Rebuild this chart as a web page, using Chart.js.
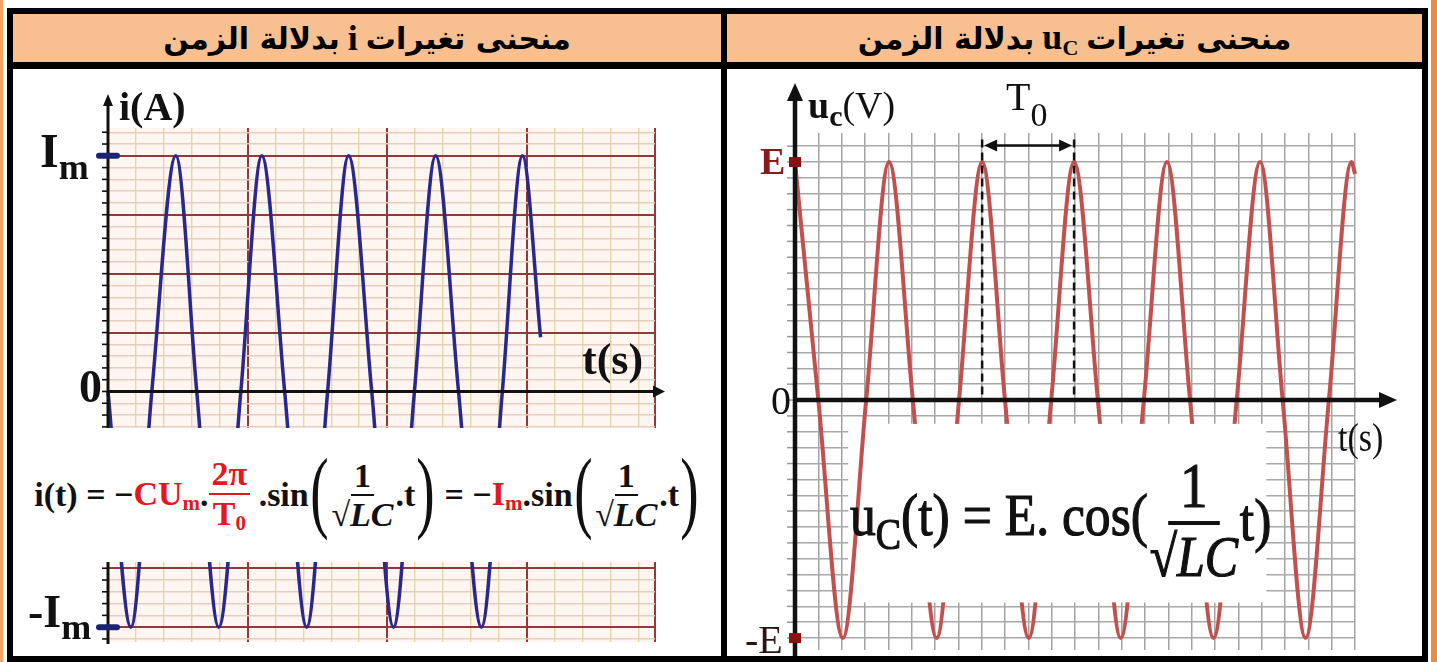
<!DOCTYPE html>
<html>
<head>
<meta charset="utf-8">
<script src="https://cdn.jsdelivr.net/npm/chart.js"></script>
<style>
  body { margin: 0; width: 1437px; height: 662px; background: #fff; position: relative; overflow: hidden; font-family: "Liberation Serif", serif; }
  .abs { position: absolute; }
  .blk { position: absolute; background: #000; }
  .hdr { position: absolute; top: 14px; height: 48px; background: #F8C090; display: flex; align-items: center; justify-content: center;
         font-family: "DejaVu Sans", sans-serif; font-weight: bold; font-size: 30px; color: #000; }
  .hdr .lat { font-family: "Liberation Serif", serif; font-size: 36px; margin: 0 8px; }
  .hdr sub { font-size: 22px; vertical-align: -6px; }
  .lbl { position: absolute; line-height: 1; white-space: nowrap; color: #111; }
  .lbl sub { vertical-align: baseline; position: relative; }
  .frac { display: inline-flex; flex-direction: column; align-items: center; vertical-align: middle; }
  .frac .num { border-bottom: 2px solid currentColor; padding: 0 3px; line-height: 1.1; }
  .frac .den { line-height: 1.1; padding: 0 2px; }
  .red { color: #E3171D; }
  #fL { position: absolute; left: 13px; top: 428px; width: 708px; height: 134px; background: #fff; display: flex; align-items: center;
        justify-content: center; font-weight: bold; font-size: 34px; color: #111; white-space: nowrap; }
  #fL sub { font-size: 21px; vertical-align: -5px; }
  #fL .paren { font-size: 92px; font-weight: normal; line-height: 1; transform: scaleX(0.6); display: inline-block; margin: -10px -5px 0; }
  #fR { position: absolute; left: 850px; top: 440px; height: 160px; display: flex; align-items: center; font-weight: normal; font-size: 60px;
        color: #111; white-space: nowrap; -webkit-text-stroke: 1.2px #111; transform: scaleX(0.86); transform-origin: left center; }
  #fR sub { font-size: 44px; vertical-align: -14px; }
  #fR .frac .num { border-bottom: 4px solid #111; padding: 0 14px; font-size: 64px; }
  #fR .frac .den { font-size: 58px; }
</style>
</head>
<body>
<!-- page frame -->
<div class="abs" style="left:0;top:0;width:3px;height:662px;background:#F7A35C"></div>
<div class="abs" style="left:1431px;top:0;width:6px;height:662px;background:#EE8A3A"></div>

<div class="abs" style="left:13px;top:69px;width:708px;height:588px">
  <canvas id="chartI" width="708" height="588"></canvas>
</div>
<div class="abs" style="left:727px;top:69px;width:695px;height:588px">
  <canvas id="chartU" width="695" height="588"></canvas>
</div>

<div class="hdr" style="left:13px;width:708px" dir="rtl">منحنى تغيرات <span class="lat">i</span> بدلالة الزمن</div>
<div class="hdr" style="left:727px;width:695px" dir="rtl">منحنى تغيرات <span class="lat">u<sub>C</sub></span> بدلالة الزمن</div>

<div class="blk" style="left:7px;top:8px;width:1421px;height:6px"></div>
<div class="blk" style="left:7px;top:62px;width:1421px;height:7px"></div>
<div class="blk" style="left:7px;top:656px;width:1421px;height:6px"></div>
<div class="blk" style="left:7px;top:8px;width:6px;height:654px"></div>
<div class="blk" style="left:721px;top:8px;width:6px;height:654px"></div>
<div class="blk" style="left:1422px;top:8px;width:6px;height:654px"></div>

<!-- left formula band -->
<div id="fL">
  <span>i(t) = −</span><span class="red">CU<sub>m</sub></span><span>.</span>
  <span class="frac red"><span class="num">2π</span><span class="den">T<sub>0</sub></span></span>
  <span>&nbsp;.sin</span><span class="paren">(</span>
  <span class="frac"><span class="num">1</span><span class="den">√<i>LC</i></span></span><span>.t</span><span class="paren">)</span>
  <span>&nbsp;= −</span><span class="red">I<sub>m</sub></span><span>.sin</span><span class="paren">(</span>
  <span class="frac"><span class="num">1</span><span class="den">√<i>LC</i></span></span><span>.t</span><span class="paren">)</span>
</div>

<!-- right formula -->
<div id="fR">
  <span>u<sub>C</sub>(t) = E. cos(</span>
  <span class="frac"><span class="num">1</span><span class="den">√<i>LC</i></span></span>
  <span>t)</span>
</div>

<!-- left axis labels -->
<div class="lbl" style="left:119px;top:87px;font-size:40px;font-weight:bold">i(A)</div>
<div class="lbl" style="left:40px;top:127px;font-size:48px;font-weight:bold">I<sub style="font-size:36px;top:12px">m</sub></div>
<div class="lbl" style="left:79px;top:364px;font-size:46px;font-weight:bold">0</div>
<div class="lbl" style="left:28px;top:589px;font-size:46px;font-weight:bold">-I<sub style="font-size:36px;top:12px">m</sub></div>
<div class="lbl" style="left:582px;top:338px;font-size:44px;font-weight:bold">t(s)</div>

<!-- right axis labels -->
<div class="lbl" style="left:808px;top:86px;font-size:38px"><b>u</b><sub style="font-size:30px;top:8px"><b>c</b></sub>(V)</div>
<div class="lbl" style="left:1006px;top:77px;font-size:40px">T<sub style="font-size:34px;top:16px">0</sub></div>
<div class="lbl" style="left:760px;top:142px;font-size:38px;font-weight:bold;color:#8B1A1A">E</div>
<div class="lbl" style="left:771px;top:381px;font-size:40px">0</div>
<div class="lbl" style="left:745px;top:620px;font-size:40px;color:#2a1414">-E</div>
<div class="lbl" style="left:1338px;top:418px;font-size:40px;transform:scaleX(0.85);transform-origin:left">t(s)</div>

<script>
// i(t) curve: time in small grid divisions, current in units of Im
const I_TIME = [0, 0.82, 1.57, 2.43, 3.18, 3.97, 4.76, 5.51, 6.33, 7.12, 7.87, 8.62, 9.45, 10.23, 10.98, 11.74, 12.56, 13.38, 14.13, 14.85, 15.5];
const I_VALUES = [0, -1, 0, 1, 0, -1, 0, 1, 0, -1, 0, 1, 0, -1, 0, 1, 0, -1, 0, 1, 0.23];

// uC(t) curve: time in small grid divisions, voltage in units of E
const UC_TIME = [0, 1, 2.05, 3.05, 4.03, 5.05, 6.07, 7.03, 8.02, 9, 10.02, 10.98, 11.96, 12.98, 13.96, 14.95, 15.94, 16.93, 17.94, 18.93, 19.93, 20.9, 21.88, 22.88, 23.85, 24];
const UC_VALUES = [1, 0, -1, 0, 1, 0, -1, 0, 1, 0, -1, 0, 1, 0, -1, 0, 1, 0, -1, 0, 1, 0, -1, 0, 1, 0.95];

// period marker T0 (between two peaks)
const T0_START = 8.02;
const T0_END = 11.96;

// grid ticks
const I_XTICKS = [];
for (let k = 0; k <= 19; k++) I_XTICKS.push(k);
I_XTICKS.push(19.6);
const I_YTICKS = [];
for (let k = -21; k <= 22; k++) I_YTICKS.push(k * 0.05);
const UC_XTICKS = [];
for (let k = 0; k <= 24; k++) UC_XTICKS.push(k);
const UC_YTICKS = [];
for (let k = -15; k <= 16; k++) UC_YTICKS.push(k / 15);

const toPoints = (xs, ys) => xs.map((x, i) => ({ x, y: ys[i] }));
const setTicks = arr => scale => { scale.ticks = arr.map(v => ({ value: v })); };

function arrowHead(ctx, x, y, dir, len, half) {
  ctx.beginPath();
  if (dir === 'up') { ctx.moveTo(x, y); ctx.lineTo(x - half, y + len); ctx.lineTo(x + half, y + len); }
  if (dir === 'right') { ctx.moveTo(x, y); ctx.lineTo(x - len, y - half); ctx.lineTo(x - len, y + half); }
  if (dir === 'left') { ctx.moveTo(x, y); ctx.lineTo(x + len, y - half); ctx.lineTo(x + len, y + half); }
  ctx.closePath();
  ctx.fill();
}

const bgPlugin = {
  id: 'bgFill',
  beforeDraw(chart, args, opts) {
    const { ctx, chartArea: a } = chart;
    ctx.save();
    ctx.fillStyle = opts.color;
    ctx.fillRect(a.left, a.top, a.right - a.left, a.bottom - a.top);
    ctx.restore();
  }
};

// ---------- left chart : i(t)
const iAxes = {
  id: 'iAxes',
  afterDraw(chart) {
    const { ctx, scales: { x, y } } = chart;
    const x0 = x.getPixelForValue(0), y0 = y.getPixelForValue(0);
    ctx.save();
    ctx.strokeStyle = '#111';
    ctx.fillStyle = '#111';
    ctx.lineWidth = 1.6;
    I_YTICKS.forEach(v => {
      const py = y.getPixelForValue(v);
      ctx.beginPath(); ctx.moveTo(x0 - 6, py); ctx.lineTo(x0 + 1, py); ctx.stroke();
    });
    ctx.lineWidth = 3;
    ctx.beginPath(); ctx.moveTo(x0, y.bottom + 2); ctx.lineTo(x0, y.top - 24); ctx.stroke();
    arrowHead(ctx, x0, y.top - 34, 'up', 12, 5);
    ctx.beginPath(); ctx.moveTo(x0, y0); ctx.lineTo(x.right + 2, y0); ctx.stroke();
    arrowHead(ctx, x.right + 10, y0, 'right', 12, 6);
    ctx.fillStyle = '#1B2470';
    [1, -1].forEach(v => {
      const py = y.getPixelForValue(v);
      ctx.beginPath(); ctx.roundRect(x0 - 12, py - 3, 24, 6, 3); ctx.fill();
    });
    ctx.restore();
  }
};

new Chart(document.getElementById('chartI'), {
  type: 'line',
  data: {
    datasets: [{
      data: toPoints(I_TIME, I_VALUES),
      borderColor: '#28288E',
      borderWidth: 3.5,
      pointRadius: 0,
      cubicInterpolationMode: 'monotone',
      clip: 4
    }]
  },
  options: {
    responsive: false,
    animation: false,
    events: [],
    layout: { padding: { left: 95, right: 66, top: 59, bottom: 15 }, autoPadding: false },
    plugins: { legend: { display: false }, tooltip: { enabled: false }, bgFill: { color: '#FFF6F1' } },
    scales: {
      x: {
        type: 'linear', min: 0, max: 19.6,
        afterBuildTicks: setTicks(I_XTICKS),
        ticks: { display: false },
        border: { display: false },
        grid: {
          drawTicks: false,
          color: c => (c.tick.value % 5 === 0 || c.tick.value === 19.6) ? '#93393A' : '#E3D8A8',
          lineWidth: c => (c.tick.value % 5 === 0 || c.tick.value === 19.6) ? 2 : 1.4
        }
      },
      y: {
        type: 'linear', min: -1.063, max: 1.118,
        afterBuildTicks: setTicks(I_YTICKS),
        ticks: { display: false },
        border: { display: false },
        grid: {
          drawTicks: false,
          color: c => Math.round(c.tick.value / 0.05) % 5 === 0 ? '#93393A' : '#E8CDBF',
          lineWidth: c => Math.round(c.tick.value / 0.05) % 5 === 0 ? 2 : 1.4
        }
      }
    }
  },
  plugins: [bgPlugin, iAxes]
});

// ---------- right chart : uC(t)
// white formula box: grid is hidden over a wider area than the curve
const boxPlugin = {
  id: 'box',
  beforeDatasetsDraw(chart) {
    const { ctx, scales: { x, y } } = chart;
    ctx.save();
    ctx.fillStyle = '#fff';
    const l = x.getPixelForValue(2.28), r = x.getPixelForValue(20.2);
    const t = y.getPixelForValue(-0.1), b = y.getPixelForValue(-0.85);
    ctx.fillRect(l, t, r - l, b - t);
    ctx.restore();
  },
  afterDatasetsDraw(chart) {
    const { ctx, scales: { x, y } } = chart;
    ctx.save();
    ctx.fillStyle = '#fff';
    const l = x.getPixelForValue(3.6), r = x.getPixelForValue(19.3);
    const t = y.getPixelForValue(-0.1), b = y.getPixelForValue(-0.85);
    ctx.fillRect(l, t, r - l, b - t);
    ctx.restore();
  }
};

const uAxes = {
  id: 'uAxes',
  afterDraw(chart) {
    const { ctx, scales: { x, y } } = chart;
    const x0 = x.getPixelForValue(0), y0 = y.getPixelForValue(0);
    ctx.save();
    ctx.strokeStyle = '#999';
    ctx.lineWidth = 1.5;
    UC_YTICKS.forEach(v => {
      const py = y.getPixelForValue(v);
      ctx.beginPath(); ctx.moveTo(x0 - 8, py); ctx.lineTo(x0, py); ctx.stroke();
    });
    // T0 period marker
    const pa = x.getPixelForValue(T0_START), pb = x.getPixelForValue(T0_END);
    const py = y.getPixelForValue(1.07);
    ctx.strokeStyle = '#111';
    ctx.fillStyle = '#111';
    ctx.lineWidth = 2.5;
    ctx.setLineDash([8, 5]);
    [pa, pb].forEach(px => { ctx.beginPath(); ctx.moveTo(px, py - 6); ctx.lineTo(px, y0); ctx.stroke(); });
    ctx.setLineDash([]);
    ctx.beginPath(); ctx.moveTo(pa + 8, py); ctx.lineTo(pb - 8, py); ctx.stroke();
    arrowHead(ctx, pa + 2, py, 'left', 13, 6);
    arrowHead(ctx, pb - 2, py, 'right', 13, 6);
    // axes
    ctx.lineWidth = 4.5;
    ctx.beginPath(); ctx.moveTo(x0, y.bottom + 10); ctx.lineTo(x0, y.top - 36); ctx.stroke();
    arrowHead(ctx, x0, y.top - 50, 'up', 18, 8);
    ctx.beginPath(); ctx.moveTo(x0, y0); ctx.lineTo(x.right + 28, y0); ctx.stroke();
    arrowHead(ctx, x.right + 42, y0, 'right', 18, 8);
    ctx.fillStyle = '#8B1010';
    [1, -1].forEach(v => {
      const p = y.getPixelForValue(v);
      ctx.fillRect(x0 - 6, p - 5, 12, 10);
    });
    ctx.restore();
  }
};

new Chart(document.getElementById('chartU'), {
  type: 'line',
  data: {
    datasets: [{
      data: toPoints(UC_TIME, UC_VALUES),
      borderColor: '#C2504F',
      borderWidth: 4,
      pointRadius: 0,
      cubicInterpolationMode: 'monotone',
      clip: 4
    }]
  },
  options: {
    responsive: false,
    animation: false,
    events: [],
    layout: { padding: { left: 68, right: 67, top: 64, bottom: 7 }, autoPadding: false },
    plugins: { legend: { display: false }, tooltip: { enabled: false }, bgFill: { color: '#FFFFFF' } },
    scales: {
      x: {
        type: 'linear', min: 0, max: 24,
        afterBuildTicks: setTicks(UC_XTICKS),
        ticks: { display: false },
        border: { display: false },
        grid: { drawTicks: false, color: '#A3A3A3', lineWidth: 1.5 }
      },
      y: {
        type: 'linear', min: -1.05, max: 1.122,
        afterBuildTicks: setTicks(UC_YTICKS),
        ticks: { display: false },
        border: { display: false },
        grid: { drawTicks: false, color: '#A8A8A8', lineWidth: 1.5 }
      }
    }
  },
  plugins: [bgPlugin, boxPlugin, uAxes]
});
</script>
</body>
</html>
